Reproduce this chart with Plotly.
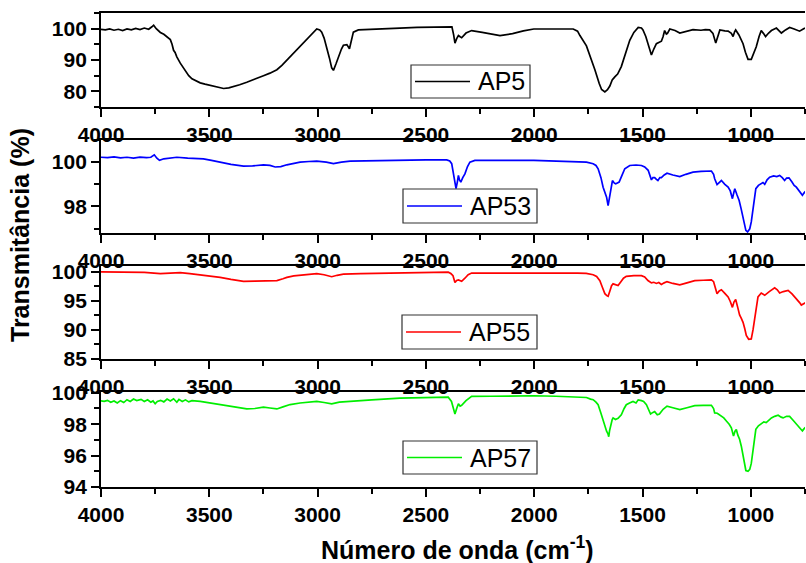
import plotly.graph_objects as go

# ---------------- data ----------------
series_names = ["AP5", "AP53", "AP55", "AP57"]
series_colors = ["#000000", "#0000ff", "#ff0000", "#00ee00"]

ap5_wn = [4000, 3980, 3960, 3940, 3920, 3900, 3880, 3860, 3840, 3820, 3800, 3780, 3765, 3757, 3745, 3735,
          3726, 3710, 3695, 3680, 3672, 3665, 3658, 3650, 3634, 3620, 3611, 3595, 3580, 3560, 3542, 3520,
          3496, 3465, 3434, 3410, 3388, 3360, 3327, 3290, 3250, 3220, 3188, 3165, 3142, 3110, 3081, 3050,
          3025, 3004, 2990, 2981, 2970, 2958, 2945, 2935, 2927, 2915, 2904, 2890, 2881, 2865, 2853, 2845,
          2835, 2812, 2760, 2697, 2620, 2541, 2460, 2397, 2380, 2372, 2366, 2358, 2350, 2342, 2335, 2315,
          2289, 2240, 2200, 2158, 2100, 2050, 2002, 1900, 1820, 1800, 1789, 1759, 1740, 1720, 1700, 1689,
          1674, 1662, 1651, 1640, 1628, 1615, 1598, 1580, 1559, 1540, 1520, 1505, 1498, 1485, 1470, 1459,
          1448, 1436, 1425, 1413, 1405, 1398, 1390, 1385, 1374, 1350, 1328, 1300, 1267, 1230, 1210, 1190,
          1175, 1162, 1150, 1143, 1120, 1105, 1090, 1082, 1075, 1070, 1055, 1036, 1025, 1013, 998, 987,
          975, 962, 952, 942, 932, 918, 905, 882, 870, 859, 840, 821, 800, 775, 760, 750]
ap5_t = [99.8, 99.6, 99.9, 99.5, 99.8, 99.4, 99.9, 99.6, 100.1, 99.7, 100.2, 99.8, 100.6, 101.1, 100.0, 99.4,
         98.8, 98.2, 97.4, 96.5, 95.0, 93.1, 92.4, 91.0, 89.0, 87.5, 86.3, 85.0, 84.0, 83.3, 82.7, 82.3,
         81.9, 81.3, 80.9, 81.1, 81.5, 82.1, 82.9, 84.0, 85.0, 85.8, 86.9, 88.3, 90.0, 92.2, 94.2, 96.5,
         98.6, 99.9, 99.6, 98.9, 97.0, 94.2, 90.5, 87.5, 86.7, 88.8, 91.0, 93.5, 94.7, 94.9, 93.6, 96.0,
         98.9, 99.6, 99.7, 99.9, 100.2, 100.4, 100.4, 100.4, 100.6, 98.0, 95.4, 96.8, 97.8, 97.4, 97.1, 98.6,
         99.4, 98.8, 98.2, 97.8, 98.4, 99.3, 99.9, 100.0, 99.9, 99.2, 97.8, 94.5, 91.0, 86.9, 82.5, 80.6,
         79.8, 80.5, 81.7, 83.6, 84.6, 85.5, 87.9, 91.5, 96.3, 98.8, 100.4, 100.2, 99.6, 97.5, 94.0, 91.6,
         93.5, 95.2, 95.6, 96.0, 97.5, 99.4, 98.3, 98.5, 99.9, 99.4, 98.6, 99.2, 99.7, 99.5, 99.7, 99.6,
         98.5, 95.4, 98.0, 99.6, 99.3, 99.2, 98.5, 97.5, 99.0, 99.6, 98.0, 95.2, 92.5, 90.2, 90.2, 92.0,
         94.2, 97.5, 99.4, 98.5, 97.5, 98.6, 99.4, 100.2, 99.5, 98.6, 99.6, 100.4, 99.9, 99.2, 99.8, 100.2]

ap53_wn = [4000, 3970, 3940, 3910, 3880, 3850, 3820, 3790, 3770, 3754, 3742, 3730, 3710, 3680, 3650, 3600,
           3560, 3527, 3490, 3450, 3400, 3342, 3300, 3250, 3220, 3196, 3170, 3142, 3110, 3081, 3040, 3004,
           2960, 2927, 2890, 2850, 2780, 2697, 2600, 2500, 2404, 2390, 2381, 2374, 2370, 2365, 2361, 2355,
           2350, 2345, 2339, 2330, 2320, 2308, 2297, 2274, 2200, 2100, 2002, 1900, 1800, 1759, 1728, 1715,
           1705, 1692, 1682, 1672, 1666, 1659, 1655, 1651, 1645, 1639, 1630, 1624, 1616, 1608, 1595, 1582,
           1559, 1530, 1505, 1490, 1474, 1465, 1459, 1452, 1444, 1436, 1429, 1420, 1413, 1400, 1387, 1360,
           1328, 1300, 1267, 1230, 1200, 1182, 1172, 1167, 1156, 1145, 1136, 1120, 1105, 1095, 1085, 1078,
           1074, 1065, 1054, 1045, 1036, 1028, 1023, 1015, 1005, 998, 992, 985, 977, 965, 952, 944,
           936, 925, 913, 895, 880, 867, 855, 844, 835, 824, 810, 800, 790, 775, 762, 755, 748]
ap53_t = [100.22, 100.2, 100.24, 100.19, 100.22, 100.18, 100.23, 100.2, 100.22, 100.33, 100.18, 100.08, 100.15, 100.2, 100.22, 100.18,
          100.17, 100.15, 100.08, 100.0, 99.9, 99.82, 99.83, 99.88, 99.85, 99.78, 99.8, 99.88, 99.95, 100.0, 100.03, 100.05,
          100.0, 99.93, 100.0, 100.05, 100.06, 100.08, 100.09, 100.1, 100.1, 100.05, 99.93, 99.5, 99.25, 98.95, 98.8, 99.1,
          99.4, 99.2, 99.1, 99.3, 99.47, 99.8, 100.0, 100.08, 100.07, 100.08, 100.08, 100.06, 100.04, 100.0, 99.93, 99.85,
          99.7, 99.3, 98.87, 98.6, 98.42, 98.04, 98.3, 98.5, 98.9, 99.17, 99.05, 99.02, 99.06, 99.1, 99.4, 99.7,
          99.85, 99.87, 99.85, 99.78, 99.63, 99.4, 99.2, 99.3, 99.3, 99.22, 99.17, 99.3, 99.3, 99.42, 99.5, 99.42,
          99.35, 99.45, 99.55, 99.58, 99.6, 99.6, 99.45, 99.25, 98.99, 99.1, 99.17, 99.0, 98.87, 98.7, 98.35, 98.65,
          98.8, 98.55, 98.27, 97.9, 97.52, 97.1, 96.92, 96.85, 96.99, 97.3, 97.67, 98.3, 98.8, 98.95, 99.05, 99.08,
          99.0, 99.2, 99.32, 99.38, 99.35, 99.4, 99.3, 99.17, 99.28, 99.29, 99.1, 98.95, 98.87, 98.7, 98.5, 98.6, 98.68]

ap55_wn = [4000, 3900, 3800, 3726, 3680, 3634, 3590, 3542, 3500, 3450, 3400, 3342, 3290, 3234, 3188, 3160,
           3142, 3110, 3081, 3040, 3004, 2970, 2935, 2910, 2881, 2800, 2700, 2620, 2500, 2397, 2385, 2375,
           2366, 2358, 2350, 2342, 2335, 2320, 2305, 2289, 2200, 2100, 2005, 1900, 1800, 1760, 1728, 1712,
           1697, 1685, 1674, 1665, 1659, 1650, 1643, 1636, 1625, 1613, 1600, 1588, 1575, 1540, 1505, 1490,
           1475, 1459, 1448, 1436, 1425, 1413, 1400, 1387, 1360, 1328, 1295, 1259, 1220, 1182, 1172, 1167,
           1160, 1156, 1146, 1136, 1120, 1105, 1095, 1085, 1078, 1070, 1060, 1052, 1044, 1036, 1028, 1021,
           1010, 998, 990, 982, 975, 967, 952, 944, 936, 915, 890, 878, 867, 850, 828, 810,
           790, 775, 767, 748]
ap55_t = [100.0, 99.95, 99.9, 99.7, 99.8, 99.85, 99.7, 99.5, 99.3, 99.05, 98.7, 98.37, 98.4, 98.5, 98.5, 98.8,
          99.05, 99.3, 99.44, 99.55, 99.7, 99.5, 99.16, 99.4, 99.6, 99.7, 99.78, 99.83, 99.9, 99.94, 99.7, 99.33,
          98.15, 98.5, 98.6, 98.45, 98.37, 98.9, 99.5, 99.78, 99.8, 99.82, 99.83, 99.8, 99.78, 99.72, 99.5, 99.2,
          98.48, 97.3, 96.24, 95.9, 95.79, 96.8, 97.6, 97.93, 97.75, 97.64, 98.3, 98.9, 99.21, 99.35, 99.33, 99.1,
          98.5, 98.09, 98.2, 98.0, 98.15, 97.81, 98.1, 98.32, 98.0, 97.76, 98.1, 98.48, 98.55, 98.6, 98.3, 97.64,
          96.8, 96.24, 96.7, 96.92, 96.3, 95.67, 94.9, 93.88, 94.8, 95.23, 93.8, 92.6, 92.0, 91.3, 90.2, 89.06,
          88.4, 88.45, 90.0, 92.3, 94.2, 95.67, 96.35, 96.1, 95.96, 96.6, 97.26, 96.9, 96.35, 96.6, 96.8, 96.2,
          95.4, 94.7, 94.28, 94.66]

ap57_wn = [4000, 3985, 3970, 3955, 3940, 3925, 3910, 3895, 3880, 3865, 3850, 3835, 3815, 3800, 3785, 3770,
           3760, 3750, 3740, 3725, 3710, 3695, 3680, 3665, 3650, 3640, 3625, 3610, 3595, 3580, 3542, 3500,
           3450, 3400, 3327, 3290, 3250, 3220, 3188, 3160, 3127, 3081, 3040, 3004, 2970, 2935, 2900, 2860,
           2750, 2620, 2500, 2397, 2382, 2374, 2366, 2358, 2350, 2342, 2335, 2315, 2289, 2200, 2100, 2002,
           1900, 1800, 1759, 1740, 1728, 1715, 1705, 1692, 1682, 1672, 1666, 1660, 1656, 1652, 1648, 1640,
           1636, 1625, 1613, 1598, 1585, 1575, 1560, 1544, 1530, 1520, 1505, 1495, 1482, 1470, 1463, 1452,
           1444, 1432, 1422, 1405, 1387, 1360, 1328, 1295, 1259, 1220, 1182, 1172, 1167, 1155, 1143, 1125,
           1113, 1100, 1090, 1085, 1080, 1073, 1067, 1060, 1052, 1044, 1036, 1028, 1023, 1013, 1005, 998,
           992, 985, 977, 965, 952, 940, 929, 915, 905, 890, 874, 860, 851, 835, 821, 805,
           790, 775, 762, 755, 748]
ap57_t = [99.49, 99.45, 99.52, 99.4, 99.48, 99.35, 99.5, 99.38, 99.56, 99.45, 99.6, 99.5, 99.58, 99.45, 99.55, 99.4,
          99.48, 99.3, 99.45, 99.52, 99.42, 99.6, 99.48, 99.62, 99.4, 99.58, 99.45, 99.55, 99.42, 99.5, 99.45, 99.35,
          99.25, 99.1, 98.97, 99.0, 99.08, 99.03, 98.97, 99.1, 99.25, 99.35, 99.4, 99.45, 99.38, 99.3, 99.4, 99.45,
          99.55, 99.66, 99.7, 99.72, 99.45, 99.1, 98.65, 99.0, 99.3, 99.15, 99.2, 99.5, 99.77, 99.78, 99.8, 99.81,
          99.78, 99.72, 99.7, 99.6, 99.56, 99.4, 99.24, 98.7, 98.2, 97.8, 97.55, 97.4, 97.2, 97.6, 97.9, 98.3,
          98.4, 98.3, 98.37, 98.6, 99.0, 99.24, 99.35, 99.45, 99.35, 99.55, 99.5, 99.45, 99.24, 98.9, 98.65, 98.75,
          98.8, 98.6, 98.65, 98.95, 99.15, 99.05, 98.93, 99.05, 99.18, 99.2, 99.2, 99.0, 98.72, 98.7, 98.6, 98.4,
          98.2, 98.0, 97.77, 97.5, 97.25, 97.55, 97.66, 97.3, 97.04, 96.6, 96.0, 95.4, 95.05, 95.0, 95.12, 95.5,
          96.1, 96.9, 97.67, 97.9, 98.03, 98.15, 98.1, 98.3, 98.4, 98.5, 98.57, 98.45, 98.4, 98.5, 98.5, 98.25,
          97.99, 97.8, 97.57, 97.7, 97.8]

x_range = [4000, 750]
x_tickvals = [4000, 3500, 3000, 2500, 2000, 1500, 1000]
y_ranges = [[75, 105], [96.8, 101.0], [85, 101.0], [94, 100.05]]
y_tickvals = [[80, 90, 100], [98, 100], [85, 90, 95, 100], [94, 96, 98, 100]]
y_minor = [5, 1, 2.5, 1]

y_title = "Transmitância (%)"
x_title = "Número de onda (cm<sup>-1</sup>)"

# ---------------- figure ----------------
W, H = 806, 563
ML, MR, MT, MB = 101, 1, 13, 76
plot_w = W - ML - MR
plot_h = H - MT - MB
panels_px = [(13, 107), (140, 233), (266, 359), (392, 487)]
domains = [[(H - MB - b) / plot_h, (H - MB - t) / plot_h] for (t, b) in panels_px]


def px_x(px):
    return (px - ML) / plot_w


def px_y(py):
    return (H - MB - py) / plot_h


xs = [ap5_wn, ap53_wn, ap55_wn, ap57_wn]
ys = [ap5_t, ap53_t, ap55_t, ap57_t]

FONT = "Liberation Sans, Arial, sans-serif"
fig = go.Figure()
tick_font = dict(family=FONT, size=21, color="black", weight="bold")
# legend boxes: (left, top, right, bottom) in page pixels
legend_boxes = [(411, 65, 530, 98), (403, 189, 537, 223), (402, 315, 537, 349), (403, 441, 537, 474)]

layout = dict(
    width=W, height=H,
    margin=dict(l=ML, r=MR, t=MT, b=MB, autoexpand=False),
    paper_bgcolor="white", plot_bgcolor="white",
    showlegend=False,
)
shapes = []
annotations = []

for i in range(4):
    xa = "x" if i == 0 else f"x{i+1}"
    ya = "y" if i == 0 else f"y{i+1}"
    fig.add_trace(go.Scatter(
        x=xs[i], y=ys[i], mode="lines", name=series_names[i],
        line=dict(color=series_colors[i], width=1.7),
        xaxis=xa, yaxis=ya,
    ))
    xkey = "xaxis" if i == 0 else f"xaxis{i+1}"
    ykey = "yaxis" if i == 0 else f"yaxis{i+1}"
    layout[xkey] = dict(
        range=x_range, domain=[0, 1], anchor=ya, automargin=False,
        tickvals=x_tickvals, ticks="outside", ticklen=8, tickwidth=1.5, tickcolor="black",
        minor=dict(dtick=250, tick0=0, ticks="outside", ticklen=5, tickwidth=1.5, tickcolor="black"),
        showline=True, linecolor="black", linewidth=1.8, mirror=True,
        showgrid=False, zeroline=False, tickfont=tick_font,
    )
    layout[ykey] = dict(
        range=y_ranges[i], domain=domains[i], anchor=xa, automargin=False,
        tickvals=y_tickvals[i], ticks="outside", ticklen=8, tickwidth=1.5, tickcolor="black",
        minor=dict(dtick=y_minor[i], tick0=0, ticks="outside", ticklen=5, tickwidth=1.5, tickcolor="black"),
        showline=True, linecolor="black", linewidth=1.8, mirror=False,
        showgrid=False, zeroline=False, tickfont=tick_font, ticksuffix="\u2002",
    )
    # legend box for this panel
    l, t, r, b = legend_boxes[i]
    shapes.append(dict(type="rect", xref="paper", yref="paper",
                       x0=px_x(l), x1=px_x(r), y0=px_y(b), y1=px_y(t),
                       line=dict(color="#333333", width=1.2), fillcolor="white", layer="above"))
    ym = px_y((t + b) / 2)
    shapes.append(dict(type="line", xref="paper", yref="paper",
                       x0=px_x(l + 4), x1=px_x(l + 59), y0=ym, y1=ym,
                       line=dict(color=series_colors[i], width=1.7), layer="above"))
    annotations.append(dict(text=series_names[i], x=px_x(l + 65), y=ym, xref="paper", yref="paper",
                            xanchor="left", yanchor="middle", showarrow=False,
                            font=dict(family=FONT, size=25, color="black")))

annotations += [
    dict(text=y_title, textangle=-90, x=px_x(20), y=px_y(235),
         xref="paper", yref="paper", showarrow=False, xanchor="center", yanchor="middle",
         font=dict(family=FONT, size=25, color="black", weight="bold")),
    dict(text=x_title, x=px_x(457), y=px_y(548),
         xref="paper", yref="paper", showarrow=False, xanchor="center", yanchor="middle",
         font=dict(family=FONT, size=25, color="black", weight="bold")),
]
layout["shapes"] = shapes
layout["annotations"] = annotations

fig.update_layout(**layout)
fig.write_html("out.html", config={"displayModeBar": False},
               post_script="document.body.style.margin='0px';document.body.style.overflow='hidden';")
